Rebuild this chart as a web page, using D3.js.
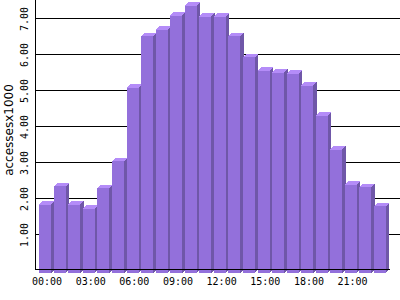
<!DOCTYPE html>
<html>
<head>
<meta charset="utf-8">
<script src="https://cdn.jsdelivr.net/npm/d3@7"></script>
<style>
body { margin: 0; background: #fff; }
svg { display: block; }
.tick text { font-family: "DejaVu Sans Mono", monospace; font-size: 10px; fill: #000; }
</style>
</head>
<body>
<svg></svg>
<script>
var WIDTH = 400;
var HEIGHT = 300;

// data
var hours = ['00:00','01:00','02:00','03:00','04:00','05:00','06:00','07:00',
             '08:00','09:00','10:00','11:00','12:00','13:00','14:00','15:00',
             '16:00','17:00','18:00','19:00','20:00','21:00','22:00','23:00'];
var accesses = [1.90, 2.41, 1.90, 1.78, 2.35, 3.10, 5.14, 6.57,
                6.76, 7.15, 7.43, 7.12, 7.12, 6.57, 5.99, 5.62,
                5.56, 5.54, 5.20, 4.37, 3.43, 2.45, 2.38, 1.85];
var yTicks = [1, 2, 3, 4, 5, 6, 7];
var xTickLabels = ['00:00','03:00','06:00','09:00','12:00','15:00','18:00','21:00'];
var yTitle = 'accessesx1000';

var LEFT = 35.5;
var BASE = 269.5;
var DEPTH = 3.5;

var svg = d3.select('svg')
  .attr('width', WIDTH)
  .attr('height', HEIGHT);

var yScale = d3.scaleLinear().domain([0, 7]).range([BASE, 17.5]);
var xScale = d3.scaleBand()
  .domain(hours)
  .range([38, 387.2])
  .paddingInner(0.175)
  .paddingOuter(0.0875);

// gridlines + rotated y labels
var leftAxis = d3.axisLeft(yScale)
  .tickValues(yTicks)
  .tickFormat(d3.format('.2f'))
  .tickSize(-(WIDTH - LEFT));
var gy = svg.append('g')
  .attr('transform', 'translate(' + LEFT + ',0)')
  .call(leftAxis);
gy.select('.domain').remove();
gy.selectAll('.tick line').attr('stroke', '#000').attr('shape-rendering', 'crispEdges');
gy.selectAll('.tick text')
  .attr('x', null).attr('dy', null)
  .attr('text-anchor', 'middle')
  .attr('transform', 'translate(' + (28 - LEFT) + ',1) rotate(-90)');

// 3d bars
var bw = xScale.bandwidth();
var bars = svg.append('g').attr('shape-rendering', 'crispEdges');
hours.forEach(function(h, i){
  var x = xScale(h);
  var top = yScale(accesses[i]) + DEPTH;
  var bot = BASE + DEPTH;
  // side
  bars.append('polygon')
    .attr('points', [[x + bw, top], [x + bw + DEPTH, top - DEPTH], [x + bw + DEPTH, bot - DEPTH], [x + bw, bot]].join(' '))
    .attr('fill', '#6f57a8');
  // top
  bars.append('polygon')
    .attr('points', [[x, top], [x + DEPTH, top - DEPTH], [x + bw + DEPTH, top - DEPTH], [x + bw, top]].join(' '))
    .attr('fill', '#b48cf8');
  // front
  bars.append('rect')
    .attr('x', x).attr('y', top)
    .attr('width', bw).attr('height', bot - top)
    .attr('fill', '#9370db');
});

// axis lines
svg.append('line')
  .attr('x1', LEFT).attr('x2', LEFT).attr('y1', 0).attr('y2', BASE)
  .attr('stroke', '#000').attr('shape-rendering', 'crispEdges');
svg.append('line')
  .attr('x1', LEFT).attr('x2', 390).attr('y1', BASE).attr('y2', BASE)
  .attr('stroke', '#000').attr('shape-rendering', 'crispEdges');

// x labels
var bottomAxis = d3.axisBottom(xScale).tickValues(xTickLabels).tickSize(0).tickPadding(8);
var gx = svg.append('g')
  .attr('transform', 'translate(' + (DEPTH / 2) + ',' + BASE + ')')
  .call(bottomAxis);
gx.select('.domain').remove();

// y title
svg.append('text')
  .attr('transform', 'translate(13,130) rotate(-90)')
  .attr('text-anchor', 'middle')
  .style('font-family', '"DejaVu Sans", sans-serif')
  .style('font-size', '12px')
  .text(yTitle);
</script>
</body>
</html>
